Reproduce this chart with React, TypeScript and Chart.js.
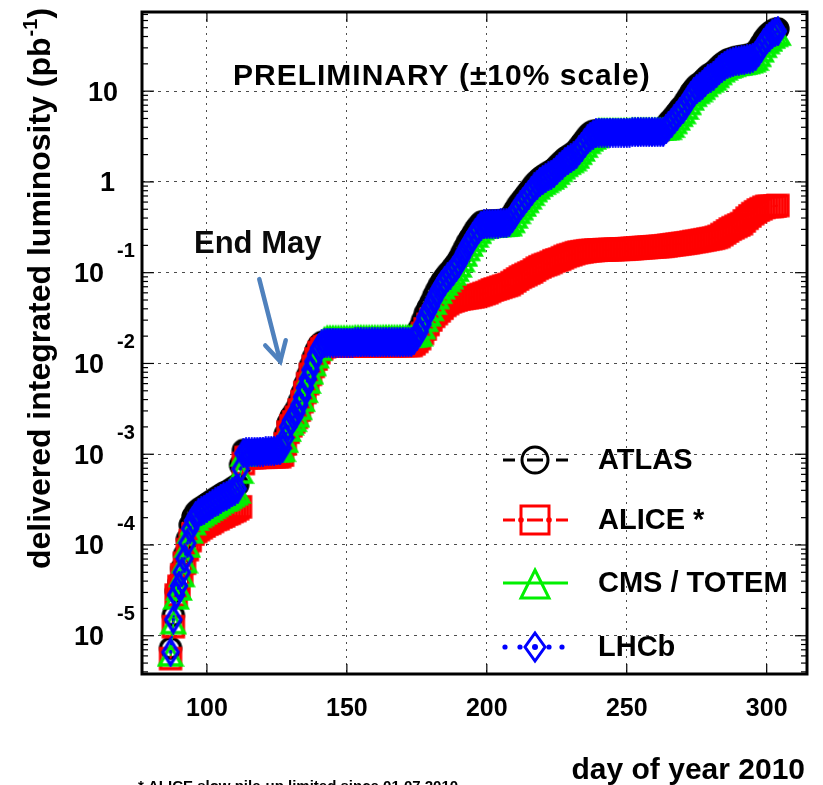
import React, { useEffect, useRef } from 'react';
import { Chart, registerables } from 'chart.js';

Chart.register(...registerables);

// day of year 2010
const DAYS = [
  87, 88, 89, 90, 91, 92, 93, 94, 95, 96, 97, 98, 99, 100, 101, 102, 103, 104, 105, 106, 107, 108, 109, 110, 111, 112, 113,
  114, 115, 116, 117, 118, 119, 120, 121, 122, 123, 124, 125, 126,
  127, 128, 129, 130, 131, 132, 133, 134, 135, 136, 137, 138, 139, 140, 141, 142,
  143, 144, 145, 146, 147, 148, 149, 150, 151, 152, 153, 154, 155, 156, 157, 158, 159, 160, 161, 162, 163, 164, 165, 166, 167, 168, 169, 170, 171, 172, 173,
  174, 175, 176, 177, 178, 179, 180, 181, 182, 183, 184, 185, 186, 187, 188, 189, 190, 191, 192, 193, 194, 195, 196, 197, 198,
  199, 200, 201, 202, 203, 204, 205, 206, 207,
  208, 209, 210, 211, 212, 213, 214, 215, 216, 217, 218, 219, 220, 221, 222, 223, 224, 225, 226, 227, 228, 229, 230, 231, 232, 233, 234, 235, 236, 237, 238, 239,
  240, 241, 242, 243, 244, 245, 246, 247, 248, 249, 250, 251, 252, 253, 254, 255, 256, 257, 258, 259, 260, 261, 262, 263,
  264, 265, 266, 267, 268, 269, 270, 271, 272, 273, 274, 275, 276, 277, 278, 279, 280, 281, 282, 283, 284, 285, 286, 287, 288, 289, 290, 291, 292, 293, 294, 295, 296, 297, 298, 299, 300, 301, 302, 303, 304,
];

// delivered integrated luminosity (pb^-1)
const LHCB = [
  6.6e-6, 1.51e-5, 2.82e-5, 3.55e-5, 5.0e-5, 7.1e-5, 1.05e-4, 1.51e-4, 1.86e-4, 2.09e-4, 2.24e-4, 2.34e-4, 2.45e-4, 2.57e-4, 2.69e-4, 2.82e-4, 2.95e-4, 3.09e-4, 3.24e-4, 3.39e-4, 3.47e-4, 3.63e-4, 3.8e-4, 3.98e-4, 4.17e-4, 6.9e-4, 1.02e-3,
  1.05e-3, 1.05e-3, 1.05e-3, 1.06e-3, 1.06e-3, 1.07e-3, 1.07e-3, 1.08e-3, 1.08e-3, 1.09e-3, 1.09e-3, 1.1e-3, 1.1e-3,
  1.17e-3, 1.51e-3, 2.0e-3, 2.34e-3, 2.57e-3, 2.88e-3, 3.47e-3, 4.27e-3, 5.37e-3, 6.76e-3, 8.51e-3, 1.05e-2, 1.26e-2, 1.48e-2, 1.62e-2, 1.68e-2,
  0.017, 0.017, 0.017, 0.017, 0.017, 0.017, 0.017, 0.017, 0.017, 0.017, 0.0171, 0.0171, 0.0171, 0.0171, 0.0171, 0.0171, 0.0171, 0.0171, 0.0171, 0.0171, 0.0172, 0.0172, 0.0172, 0.0172, 0.0172, 0.0172, 0.0172, 0.0172, 0.0172, 0.0172, 0.0172,
  0.0182, 0.02, 0.0224, 0.0269, 0.0324, 0.0372, 0.0427, 0.0501, 0.0575, 0.0661, 0.0741, 0.0813, 0.0891, 0.0955, 0.105, 0.115, 0.129, 0.148, 0.17, 0.195, 0.219, 0.245, 0.275, 0.302, 0.331,
  0.34, 0.343, 0.345, 0.346, 0.347, 0.348, 0.349, 0.35, 0.352,
  0.363, 0.398, 0.447, 0.501, 0.55, 0.603, 0.661, 0.724, 0.794, 0.871, 0.933, 1.0, 1.05, 1.1, 1.15, 1.2, 1.26, 1.35, 1.45, 1.55, 1.66, 1.74, 1.82, 1.91, 2.04, 2.24, 2.45, 2.69, 2.95, 3.16, 3.31, 3.43,
  3.5, 3.5, 3.5, 3.5, 3.5, 3.5, 3.5, 3.5, 3.5, 3.5, 3.5, 3.5, 3.55, 3.55, 3.55, 3.55, 3.55, 3.55, 3.55, 3.55, 3.55, 3.55, 3.55, 3.55,
  3.8, 4.17, 4.47, 4.9, 5.37, 5.89, 6.31, 7.08, 7.94, 8.91, 9.77, 10.5, 11.0, 11.7, 12.6, 13.5, 14.1, 14.8, 15.8, 17.0, 18.2, 19.1, 20.0, 20.4, 20.9, 21.4, 21.6, 21.9, 22.1, 22.4, 22.9, 23.4, 24.5, 26.9, 30.2, 33.9, 37.2, 39.8, 42.7, 44.7, 45.7,
];

const ATLAS = [
  7.3e-6, 1.68e-5, 3.1e-5, 3.9e-5, 5.5e-5, 7.8e-5, 1.16e-4, 1.66e-4, 2.05e-4, 2.3e-4, 2.46e-4, 2.57e-4, 2.7e-4, 2.83e-4, 2.96e-4, 3.1e-4, 3.25e-4, 3.4e-4, 3.56e-4, 3.73e-4, 3.82e-4, 3.99e-4, 4.18e-4, 4.38e-4, 4.59e-4, 7.6e-4, 1.1e-3,
  1.08e-3, 1.08e-3, 1.08e-3, 1.08e-3, 1.09e-3, 1.09e-3, 1.09e-3, 1.09e-3, 1.1e-3, 1.1e-3, 1.1e-3, 1.1e-3, 1.1e-3,
  1.29e-3, 1.66e-3, 2.2e-3, 2.57e-3, 2.83e-3, 3.17e-3, 3.82e-3, 4.7e-3, 5.9e-3, 7.4e-3, 9.4e-3, 1.16e-2, 1.39e-2, 1.6e-2, 1.7e-2, 1.72e-2,
  0.0172, 0.0172, 0.0172, 0.0172, 0.0172, 0.0172, 0.0172, 0.0172, 0.0172, 0.0172, 0.0172, 0.0172, 0.0172, 0.0172, 0.0172, 0.0172, 0.0172, 0.0172, 0.0172, 0.0172, 0.0172, 0.0172, 0.0172, 0.0172, 0.0172, 0.0172, 0.0172, 0.0172, 0.0172, 0.0172, 0.0172,
  0.0195, 0.022, 0.0247, 0.0296, 0.0356, 0.041, 0.047, 0.0551, 0.0633, 0.0727, 0.0815, 0.0894, 0.098, 0.105, 0.116, 0.127, 0.142, 0.163, 0.187, 0.215, 0.241, 0.27, 0.303, 0.332, 0.36,
  0.365, 0.367, 0.369, 0.37, 0.371, 0.372, 0.373, 0.374, 0.376,
  0.399, 0.438, 0.492, 0.551, 0.605, 0.663, 0.727, 0.796, 0.873, 0.958, 1.03, 1.1, 1.16, 1.21, 1.27, 1.32, 1.39, 1.49, 1.6, 1.71, 1.83, 1.91, 2.0, 2.1, 2.24, 2.46, 2.7, 2.96, 3.25, 3.48, 3.6, 3.65,
  3.6, 3.6, 3.6, 3.6, 3.6, 3.6, 3.6, 3.6, 3.6, 3.6, 3.6, 3.6, 3.62, 3.62, 3.62, 3.62, 3.62, 3.62, 3.62, 3.62, 3.62, 3.62, 3.62, 3.62,
  4.18, 4.59, 4.92, 5.39, 5.9, 6.48, 6.94, 7.8, 8.7, 9.8, 10.7, 11.6, 12.1, 12.9, 13.9, 14.9, 15.5, 16.3, 17.4, 18.7, 20.0, 21.0, 22.0, 22.4, 23.0, 23.5, 23.8, 24.1, 24.3, 24.6, 25.2, 25.7, 27.0, 29.6, 33.2, 37.3, 40.9, 43.8, 46.2, 47.8, 48.5,
];

const CMS = [
  6.0e-6, 1.36e-5, 2.55e-5, 3.2e-5, 4.5e-5, 6.4e-5, 9.5e-5, 1.36e-4, 1.68e-4, 1.88e-4, 2.02e-4, 2.11e-4, 2.21e-4, 2.31e-4, 2.42e-4, 2.54e-4, 2.66e-4, 2.78e-4, 2.92e-4, 3.05e-4, 3.12e-4, 3.27e-4, 3.42e-4, 3.58e-4, 3.75e-4, 6.2e-4, 9.6e-4,
  1.05e-3, 1.05e-3, 1.05e-3, 1.05e-3, 1.06e-3, 1.06e-3, 1.06e-3, 1.06e-3, 1.07e-3, 1.07e-3, 1.07e-3, 1.07e-3, 1.07e-3,
  1.08e-3, 1.36e-3, 1.8e-3, 2.11e-3, 2.31e-3, 2.59e-3, 3.12e-3, 3.84e-3, 4.83e-3, 6.1e-3, 7.7e-3, 9.5e-3, 1.16e-2, 1.4e-2, 1.65e-2, 1.85e-2,
  0.0192, 0.0192, 0.0192, 0.0192, 0.0192, 0.0192, 0.0192, 0.0192, 0.0192, 0.0192, 0.0194, 0.0194, 0.0194, 0.0194, 0.0194, 0.0194, 0.0194, 0.0194, 0.0194, 0.0194, 0.0195, 0.0195, 0.0195, 0.0195, 0.0195, 0.0195, 0.0195, 0.0195, 0.0195, 0.0195, 0.0195,
  0.0197, 0.0199, 0.0202, 0.0242, 0.0292, 0.0335, 0.0384, 0.0451, 0.0518, 0.0595, 0.0667, 0.0732, 0.0802, 0.086, 0.0945, 0.104, 0.116, 0.133, 0.153, 0.176, 0.197, 0.221, 0.248, 0.272, 0.298,
  0.31, 0.315, 0.318, 0.32, 0.322, 0.323, 0.325, 0.326, 0.328,
  0.33, 0.358, 0.402, 0.451, 0.495, 0.543, 0.595, 0.652, 0.715, 0.784, 0.84, 0.9, 0.945, 0.99, 1.04, 1.08, 1.13, 1.22, 1.31, 1.4, 1.49, 1.57, 1.64, 1.72, 1.84, 2.02, 2.2, 2.42, 2.66, 2.84, 2.98, 3.09,
  3.7, 3.7, 3.7, 3.7, 3.7, 3.7, 3.7, 3.7, 3.7, 3.7, 3.7, 3.7, 3.75, 3.75, 3.75, 3.75, 3.75, 3.75, 3.75, 3.75, 3.75, 3.75, 3.75, 3.75,
  3.78, 3.8, 4.02, 4.41, 4.83, 5.3, 5.68, 6.37, 7.15, 8.02, 8.8, 9.45, 9.9, 10.5, 11.3, 12.2, 12.7, 13.3, 14.2, 15.3, 16.4, 17.2, 18.0, 18.4, 18.8, 19.3, 19.4, 19.7, 19.9, 20.2, 20.6, 21.1, 22.0, 24.2, 27.2, 30.5, 33.5, 35.8, 38.4, 40.2, 41.5,
];

const ALICE = [
  5.6e-6, 1.26e-5, 2.8e-5, 3.5e-5, 4.7e-5, 6.3e-5, 8.9e-5, 1.12e-4, 1.32e-4, 1.41e-4, 1.48e-4, 1.55e-4, 1.62e-4, 1.7e-4, 1.74e-4, 1.82e-4, 1.91e-4, 1.95e-4, 2.04e-4, 2.09e-4, 2.19e-4, 2.24e-4, 2.34e-4, 2.4e-4, 2.51e-4, 2.63e-4, 7.9e-4,
  9.2e-4, 9.2e-4, 9.2e-4, 9.2e-4, 9.3e-4, 9.3e-4, 9.3e-4, 9.3e-4, 9.4e-4, 9.4e-4, 9.4e-4, 9.4e-4, 9.4e-4,
  9.8e-4, 1.3e-3, 1.75e-3, 2.06e-3, 2.27e-3, 2.55e-3, 3.07e-3, 3.8e-3, 4.8e-3, 6.0e-3, 7.6e-3, 9.3e-3, 1.12e-2, 1.32e-2, 1.45e-2, 1.53e-2,
  0.0156, 0.0156, 0.0156, 0.0156, 0.0156, 0.0156, 0.0156, 0.0156, 0.0156, 0.0156, 0.0157, 0.0157, 0.0157, 0.0157, 0.0157, 0.0157, 0.0157, 0.0157, 0.0157, 0.0157, 0.0158, 0.0158, 0.0158, 0.0158, 0.0158, 0.0158, 0.0158, 0.0158, 0.0158, 0.0158, 0.0158,
  0.0165, 0.0175, 0.0188, 0.0214, 0.024, 0.0269, 0.0302, 0.0331, 0.0355, 0.038, 0.0407, 0.0437, 0.0457, 0.0479, 0.049, 0.0501, 0.0513, 0.0519, 0.0525, 0.0531, 0.0537, 0.0543, 0.055, 0.0562, 0.0575,
  0.0589, 0.0603, 0.0624, 0.0646, 0.0661, 0.0676, 0.0692, 0.0708, 0.0724,
  0.0741, 0.0776, 0.0813, 0.0851, 0.0891, 0.0923, 0.0955, 0.0989, 0.102, 0.107, 0.112, 0.116, 0.12, 0.123, 0.126, 0.13, 0.135, 0.138, 0.141, 0.146, 0.151, 0.155, 0.158, 0.162, 0.166, 0.168, 0.17, 0.172, 0.174, 0.175, 0.176, 0.177,
  0.178, 0.178, 0.179, 0.179, 0.18, 0.18, 0.181, 0.181, 0.182, 0.182, 0.183, 0.184, 0.185, 0.186, 0.187, 0.188, 0.189, 0.19, 0.191, 0.192, 0.193, 0.194, 0.195, 0.196,
  0.198, 0.2, 0.202, 0.204, 0.206, 0.208, 0.21, 0.212, 0.214, 0.217, 0.22, 0.222, 0.225, 0.228, 0.231, 0.234, 0.237, 0.24, 0.245, 0.251, 0.263, 0.275, 0.288, 0.302, 0.313, 0.324, 0.335, 0.347, 0.372, 0.398, 0.422, 0.447, 0.468, 0.49, 0.507, 0.525, 0.537, 0.537, 0.537, 0.543, 0.55,
];

const X_TICKS = [100, 150, 200, 250, 300];
const Y_TICKS = [1e-5, 1e-4, 1e-3, 1e-2, 1e-1, 1, 10];
const Y_TICK_BASE = ['10', '10', '10', '10', '10', '1', '10'];
const Y_TICK_EXP = ['-5', '-4', '-3', '-2', '-1', '', ''];
const LEGEND_LABELS = ['ATLAS', 'ALICE *', 'CMS / TOTEM', 'LHCb'];

const X_MIN = 76.8;
const X_MAX = 314.4;
const Y_MIN = 3.79e-6;
const Y_MAX = 74.5;

const FONT = '"Liberation Sans", Arial, Helvetica, sans-serif';
const BLACK = '#000000';
const RED = '#ff0000';
const GREEN = '#00f000';
const BLUE = '#0000ff';

function makeMarker(kind: string, color: string): HTMLCanvasElement {
  const c = document.createElement('canvas');
  c.width = 28;
  c.height = 30;
  const g = c.getContext('2d')!;
  const cx = 14;
  const cy = 15;
  g.strokeStyle = color;
  g.fillStyle = color;
  g.lineWidth = 3.4;
  g.beginPath();
  if (kind === 'circle') {
    g.arc(cx, cy, 10, 0, Math.PI * 2);
  } else if (kind === 'square') {
    g.rect(cx - 10, cy - 10, 20, 20);
  } else if (kind === 'triangle') {
    g.moveTo(cx, cy - 10);
    g.lineTo(cx + 11, cy + 9);
    g.lineTo(cx - 11, cy + 9);
    g.closePath();
  } else {
    g.moveTo(cx, cy - 12.5);
    g.lineTo(cx + 7.5, cy);
    g.lineTo(cx, cy + 12.5);
    g.lineTo(cx - 7.5, cy);
    g.closePath();
  }
  g.stroke();
  if (kind === 'diamond') {
    g.beginPath();
    g.arc(cx, cy, 1.8, 0, Math.PI * 2);
    g.fill();
  }
  return c;
}

function seg(ctx: CanvasRenderingContext2D, x1: number, y1: number, x2: number, y2: number) {
  ctx.beginPath();
  ctx.moveTo(x1, y1);
  ctx.lineTo(x2, y2);
  ctx.stroke();
}

function dot(ctx: CanvasRenderingContext2D, x: number, y: number, r: number) {
  ctx.beginPath();
  ctx.arc(x, y, r, 0, Math.PI * 2);
  ctx.fill();
}

const decorPlugin = {
  id: 'decor',
  afterDraw(chart: any) {
    const { ctx, chartArea: a, scales } = chart;
    const xs = scales.x;
    const ys = scales.y;
    ctx.save();
    ctx.setLineDash([]);
    ctx.strokeStyle = BLACK;
    ctx.fillStyle = BLACK;

    // frame
    ctx.lineWidth = 3;
    ctx.strokeRect(a.left, a.top, a.right - a.left, a.bottom - a.top);

    // log ticks on left and right
    ctx.lineWidth = 1.2;
    for (let e = -6; e <= 1; e++) {
      for (let k = 1; k <= 9; k++) {
        const v = k * Math.pow(10, e);
        if (v < Y_MIN || v > Y_MAX) continue;
        const py = ys.getPixelForValue(v);
        const len = k === 1 ? 12 : 6;
        seg(ctx, a.left, py, a.left + len, py);
        seg(ctx, a.right - len, py, a.right, py);
      }
    }
    // x ticks
    for (const v of X_TICKS) {
      const px = xs.getPixelForValue(v);
      seg(ctx, px, a.bottom, px, a.bottom - 10);
      seg(ctx, px, a.top, px, a.top + 10);
    }

    // y tick labels
    ctx.textBaseline = 'middle';
    Y_TICKS.forEach((v, i) => {
      const py = ys.getPixelForValue(v);
      ctx.font = `bold 27px ${FONT}`;
      ctx.textAlign = 'right';
      if (Y_TICK_EXP[i]) {
        ctx.fillText(Y_TICK_BASE[i], 104, py + 2);
        ctx.font = `bold 20px ${FONT}`;
        ctx.textAlign = 'left';
        ctx.fillText(Y_TICK_EXP[i], 117, py - 21);
      } else {
        ctx.fillText(Y_TICK_BASE[i], Y_TICK_BASE[i] === '1' ? 115 : 118, py + 2);
      }
    });

    // x tick labels
    ctx.font = `bold 25px ${FONT}`;
    ctx.textAlign = 'center';
    for (const v of X_TICKS) {
      ctx.fillText(String(v), xs.getPixelForValue(v), 709);
    }

    // x axis title
    ctx.textBaseline = 'alphabetic';
    ctx.textAlign = 'right';
    ctx.font = `bold 30px ${FONT}`;
    ctx.fillText('day of year 2010', 805, 779);

    // footnote (cut at the bottom)
    ctx.textAlign = 'left';
    ctx.font = `bold 15px ${FONT}`;
    ctx.fillText('* ALICE slow pile-up limited since 01.07.2010', 138, 791);

    // y axis title, rotated
    ctx.save();
    ctx.translate(50, 289);
    ctx.rotate(-Math.PI / 2);
    const main = 'delivered integrated luminosity (pb';
    ctx.font = `bold 32px ${FONT}`;
    const w1 = ctx.measureText(main).width;
    const w3 = ctx.measureText(')').width;
    ctx.font = `bold 20px ${FONT}`;
    const w2 = ctx.measureText('-1').width;
    const start = -(w1 + w2 + w3) / 2;
    ctx.textAlign = 'left';
    ctx.font = `bold 32px ${FONT}`;
    ctx.fillText(main, start, 0);
    ctx.fillText(')', start + w1 + w2 + 1, 0);
    ctx.font = `bold 20px ${FONT}`;
    ctx.fillText('-1', start + w1 + 1, -13);
    ctx.restore();

    // title
    ctx.save();
    ctx.font = `bold 30px ${FONT}`;
    ctx.textAlign = 'left';
    (ctx as any).letterSpacing = '1px';
    ctx.fillText('PRELIMINARY (\u00b110% scale)', 233, 85);
    ctx.restore();

    // End May annotation
    ctx.font = `bold 31px ${FONT}`;
    ctx.fillStyle = '#0a0a0a';
    ctx.textAlign = 'left';
    ctx.textBaseline = 'alphabetic';
    ctx.fillText('End May', 194, 253);
    const tx = xs.getPixelForValue(126.2);
    const ty = ys.getPixelForValue(0.0105);
    const sx = xs.getPixelForValue(118.7);
    const sy = ys.getPixelForValue(0.085);
    ctx.strokeStyle = '#4f81bd';
    ctx.lineWidth = 4.5;
    ctx.lineCap = 'round';
    seg(ctx, sx, sy, tx, ty);
    const ang = Math.atan2(ty - sy, tx - sx);
    const hl = 22;
    ctx.beginPath();
    ctx.moveTo(tx - hl * Math.cos(ang - 0.5), ty - hl * Math.sin(ang - 0.5));
    ctx.lineTo(tx, ty);
    ctx.lineTo(tx - hl * Math.cos(ang + 0.5), ty - hl * Math.sin(ang + 0.5));
    ctx.stroke();
    ctx.lineCap = 'butt';

    // legend
    const rows = [460, 520, 583, 647];
    const mx = 535;
    ctx.lineWidth = 3;
    // ATLAS
    ctx.strokeStyle = BLACK;
    ctx.fillStyle = BLACK;
    seg(ctx, 503, rows[0], 515, rows[0]);
    seg(ctx, 556, rows[0], 568, rows[0]);
    seg(ctx, 527, rows[0], 543, rows[0]);
    ctx.beginPath();
    ctx.arc(mx, rows[0], 13, 0, Math.PI * 2);
    ctx.stroke();
    // ALICE
    ctx.strokeStyle = RED;
    ctx.fillStyle = RED;
    seg(ctx, 503, rows[1], 515, rows[1]);
    seg(ctx, 556, rows[1], 568, rows[1]);
    seg(ctx, 527, rows[1], 543, rows[1]);
    ctx.strokeRect(mx - 14, rows[1] - 14, 28, 28);
    dot(ctx, mx - 14, rows[1], 2.8);
    dot(ctx, mx + 14, rows[1], 2.8);
    // CMS
    ctx.strokeStyle = GREEN;
    seg(ctx, 503, rows[2], 568, rows[2]);
    ctx.beginPath();
    ctx.moveTo(mx, rows[2] - 13);
    ctx.lineTo(mx + 14, rows[2] + 15);
    ctx.lineTo(mx - 14, rows[2] + 15);
    ctx.closePath();
    ctx.stroke();
    // LHCb
    ctx.strokeStyle = BLUE;
    ctx.fillStyle = BLUE;
    for (const dx of [505, 520, 549, 562]) dot(ctx, dx, rows[3], 2.6);
    dot(ctx, mx, rows[3], 3);
    ctx.beginPath();
    ctx.moveTo(mx, rows[3] - 14);
    ctx.lineTo(mx + 10, rows[3]);
    ctx.lineTo(mx, rows[3] + 14);
    ctx.lineTo(mx - 10, rows[3]);
    ctx.closePath();
    ctx.stroke();

    ctx.fillStyle = BLACK;
    ctx.font = `bold 29px ${FONT}`;
    ctx.textAlign = 'left';
    ctx.textBaseline = 'middle';
    LEGEND_LABELS.forEach((t, i) => ctx.fillText(t, 598, rows[i] + 1));

    ctx.restore();
  },
};

export default function App() {
  const ref = useRef<HTMLCanvasElement>(null);

  useEffect(() => {
    const canvas = ref.current;
    if (!canvas) return;
    const markers = {
      circle: makeMarker('circle', BLACK),
      square: makeMarker('square', RED),
      triangle: makeMarker('triangle', GREEN),
      diamond: makeMarker('diamond', BLUE),
    };
    const toPoints = (vals: number[]) => DAYS.map((d, i) => ({ x: d, y: vals[i] }));

    const gridCfg = { color: 'rgba(0,0,0,0.7)', lineWidth: 1, drawTicks: false };
    const chart = new Chart(canvas, {
      type: 'line',
      data: {
        datasets: [
          { label: 'LHCb', data: toPoints(LHCB), borderColor: BLUE, borderWidth: 2, borderDash: [2, 5], pointStyle: markers.diamond, pointRadius: 10, order: 0 },
          { label: 'CMS / TOTEM', data: toPoints(CMS), borderColor: GREEN, borderWidth: 2, pointStyle: markers.triangle, pointRadius: 10, order: 1 },
          { label: 'ALICE *', data: toPoints(ALICE), borderColor: RED, borderWidth: 2, borderDash: [7, 5], pointStyle: markers.square, pointRadius: 10, order: 2 },
          { label: 'ATLAS', data: toPoints(ATLAS), borderColor: BLACK, borderWidth: 2, borderDash: [7, 5], pointStyle: markers.circle, pointRadius: 10, order: 3 },
        ] as any,
      },
      options: {
        animation: false,
        responsive: false,
        events: [],
        layout: { padding: { left: 142, top: 5, right: 16, bottom: 111 } },
        elements: { line: { tension: 0, fill: false } },
        plugins: { legend: { display: false }, tooltip: { enabled: false }, title: { display: false } },
        scales: {
          x: {
            type: 'linear',
            min: X_MIN,
            max: X_MAX,
            afterBuildTicks: (s: any) => { s.ticks = X_TICKS.map((v) => ({ value: v })); },
            ticks: { display: false },
            grid: gridCfg,
            border: { display: false, dash: [2, 5] },
          },
          y: {
            type: 'logarithmic',
            min: Y_MIN,
            max: Y_MAX,
            afterBuildTicks: (s: any) => { s.ticks = Y_TICKS.map((v) => ({ value: v })); },
            ticks: { display: false },
            grid: gridCfg,
            border: { display: false, dash: [3, 5] },
          },
        },
      } as any,
      plugins: [decorPlugin],
    });
    return () => chart.destroy();
  }, []);

  return (
    <div style={{ position: 'absolute', left: 0, top: 0, width: 823, height: 785, background: '#ffffff', overflow: 'hidden' }}>
      <canvas ref={ref} width={823} height={785} style={{ display: 'block' }} />
    </div>
  );
}
